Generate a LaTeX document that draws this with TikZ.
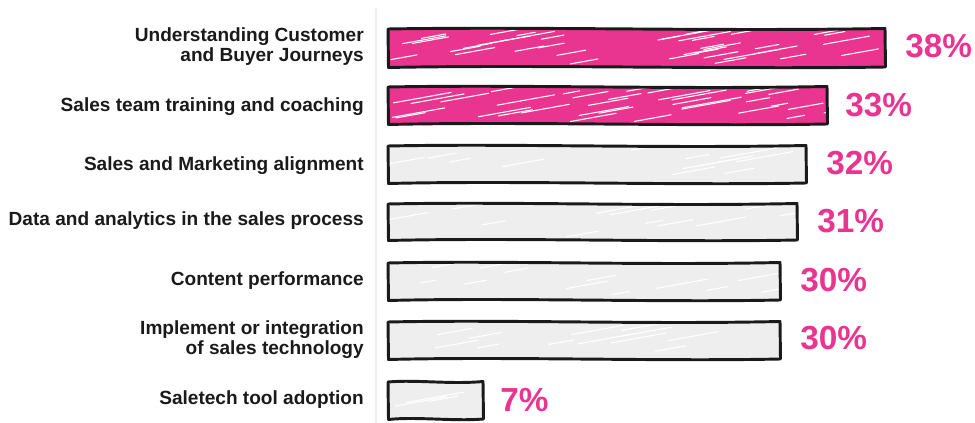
\documentclass[tikz,border=0pt]{standalone}
\usepackage{fontspec}
\setmainfont{Liberation Sans}
\definecolor{barpink}{HTML}{E93590}
\definecolor{bargray}{HTML}{EEEEEE}
\definecolor{ink}{HTML}{1A1A1A}
\definecolor{axisgray}{HTML}{EDEDED}
\tikzset{
  lbl/.style={anchor=east, align=right, font=\fontsize{14.3}{15}\selectfont\bfseries, text=ink, inner sep=0pt},
  pct/.style={anchor=west, font=\fontsize{25}{26}\selectfont\bfseries, text=barpink, inner sep=0pt},
  outline/.style={draw=ink, line width=2.2pt, line join=round},
  hatch/.style={white, line width=0.8pt, line cap=round}
}
% #1 top, #2 bottom, #3 right, #4 fill, #5 seed, #6 number of strokes
\newcommand\sketchbar[6]{%
  \pgfmathsetmacro\bw{#3-388}%
  \def\barpath{(388,#1) .. controls ({388+0.3*\bw},{#1-2.5}) and ({388+0.65*\bw},{#1+2.5}) .. (#3,{#1-0.5})
    -- ({#3+0.5},#2) .. controls ({388+0.7*\bw},{#2+2.5}) and ({388+0.3*\bw},{#2-2.5}) .. (388.5,{#2+0.5}) -- cycle}%
  \fill[#4] \barpath;
  \begin{scope}
    \clip \barpath;
    \pgfmathsetseed{#5}%
    \foreach \i in {1,...,#6}{%
      \pgfmathsetmacro\hx{388+rnd*\bw}%
      \pgfmathsetmacro\hy{#1+4+rnd*(#2-#1-6)}%
      \pgfmathsetmacro\hl{15+rnd*45}%
      \draw[hatch] (\hx,\hy) -- ++(\hl,{-0.18*\hl});
    }
  \end{scope}
  \draw[outline] \barpath;
}
\begin{document}
\begin{tikzpicture}[x=0.75pt,y=-0.75pt]
\useasboundingbox (0,0) rectangle (975,423);
% axis
\coordinate (axtop) at (376,8);
\coordinate (axbot) at (376,423);
\draw[axisgray, line width=2.2pt] (axtop) -- (axbot);

% bars
\sketchbar{29}{67}{885}{barpink}{11}{38}
\sketchbar{87}{124}{827}{barpink}{23}{34}
\sketchbar{146}{183}{806}{bargray}{31}{12}
\sketchbar{204}{240}{797}{bargray}{41}{12}
\sketchbar{263}{300}{780}{bargray}{51}{12}
\sketchbar{322}{359}{780}{bargray}{61}{12}
\sketchbar{382}{419}{483}{bargray}{71}{3}

% labels
\node[lbl] (l1) at (364,47) {Understanding Customer\hspace{5pt}\\and Buyer Journeys};
\node[lbl] (l2) at (364,107) {Sales team training and coaching};
\node[lbl] (l3) at (364,166) {Sales and Marketing alignment};
\node[lbl] (l4) at (364,221) {Data and analytics in the sales process};
\node[lbl] (l5) at (364,281) {Content performance};
\node[lbl] (l6) at (364,340) {Implement or integration\\of sales technology};
\node[lbl] (l7) at (364,400) {Saletech tool adoption};

% percentages
\node[pct] (p1) at (905,46) {38\%};
\node[pct] (p2) at (845,105) {33\%};
\node[pct] (p3) at (826,163) {32\%};
\node[pct] (p4) at (817,221) {31\%};
\node[pct] (p5) at (800,280) {30\%};
\node[pct] (p6) at (800,338) {30\%};
\node[pct] (p7) at (500,400) {7\%};
\end{tikzpicture}
\end{document}
